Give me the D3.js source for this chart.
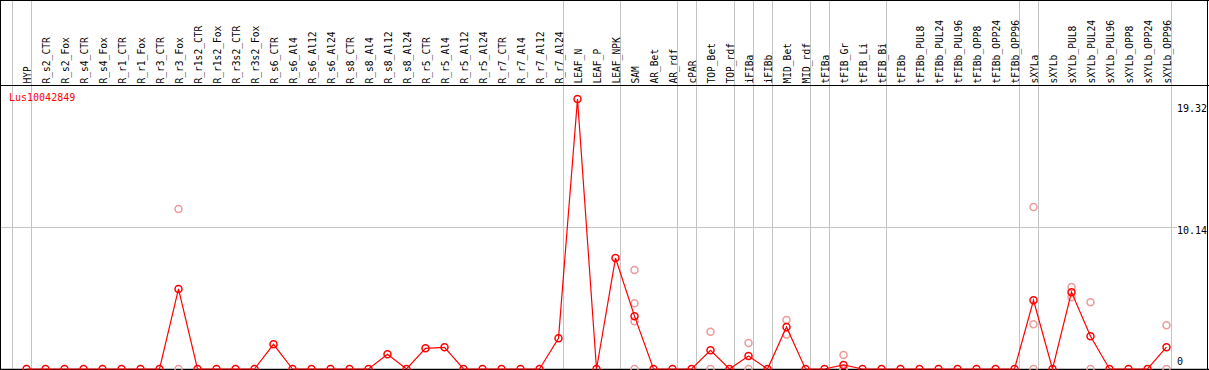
<!DOCTYPE html>
<html>
<head>
    <meta charset="utf-8">
    <script src="https://d3js.org/d3.v7.min.js"></script>
    <style>
        body { margin: 0; background: #fff; }
        text { font-family: "DejaVu Sans Mono", monospace; font-size: 10px; }
        text.cat { font-size: 9.6px; }
    </style>
</head>
<body>
    <div id="chart"></div>
    <script>
        // 样本名称
        var categories = ["HYP", "R_s2_CTR", "R_s2_Fox", "R_s4_CTR", "R_s4_Fox", "R_r1_CTR", "R_r1_Fox",
            "R_r3_CTR", "R_r3_Fox", "R_r1s2_CTR", "R_r1s2_Fox", "R_r3s2_CTR", "R_r3s2_Fox", "R_s6_CTR",
            "R_s6_Al4", "R_s6_Al12", "R_s6_Al24", "R_s8_CTR", "R_s8_Al4", "R_s8_Al12", "R_s8_Al24",
            "R_r5_CTR", "R_r5_Al4", "R_r5_Al12", "R_r5_Al24", "R_r7_CTR", "R_r7_Al4", "R_r7_Al12",
            "R_r7_Al24", "LEAF_N", "LEAF_P", "LEAF_NPK", "SAM", "AR_Bet", "AR_rdf", "cPAR", "TOP_Bet",
            "TOP_rdf", "iFIBa", "iFIBb", "MID_Bet", "MID_rdf", "tFIBa", "tFIB_Gr", "tFIB_Li", "tFIB_Bi",
            "tFIBb", "tFIBb_PUL8", "tFIBb_PUL24", "tFIBb_PUL96", "tFIBb_OPP8", "tFIBb_OPP24",
            "tFIBb_OPP96", "sXYLa", "sXYLb", "sXYLb_PUL8", "sXYLb_PUL24", "sXYLb_PUL96", "sXYLb_OPP8",
            "sXYLb_OPP24", "sXYLb_OPP96"];

        // 平均值
        var means = [0, 0, 0, 0, 0, 0, 0, 0, 5.73, 0, 0, 0, 0, 1.77,
            0, 0, 0, 0, 0, 1.05, 0,
            1.48, 1.55, 0, 0, 0, 0, 0,
            2.20, 19.32, 0, 7.94, 3.78, 0, 0, 0, 1.34,
            0, 0.93, 0, 3.01, 0, 0, 0.29, 0, 0,
            0, 0, 0, 0, 0, 0,
            0, 4.92, 0, 5.50, 2.34, 0, 0,
            0, 1.56];

        // 重复样本（只列出能看见的）
        var replicates = {
            "R_r3_Fox": [11.45, 0],
            "SAM": [7.08, 4.71, 3.42, 0],
            "TOP_Bet": [2.67, 0],
            "iFIBa": [1.86, 0],
            "MID_Bet": [3.51, 2.46],
            "tFIB_Gr": [1.0, 0, 0],
            "sXYLa": [11.59, 3.2, 0],
            "sXYLb_PUL8": [5.86, 5.14],
            "sXYLb_PUL24": [4.78, 0],
            "sXYLb_OPP96": [3.13, 0]
        };

        // 分组线：画在这些样本之后
        var groupEnds = [-1, 0, 28, 31, 34, 35, 37, 38, 39, 41, 42, 45, 52, 53, 60];
        var tickValues = [0, 10.14, 19.32];
        var geneName = "Lus10042849";

        var W = 1209, H = 370;
        var svg = d3.select("#chart").append("svg")
            .attr("width", W)
            .attr("height", H);

        var x = d3.scaleLinear().domain([0, categories.length - 1]).range([26.5, 1166.5]);
        var y = d3.scaleLinear().domain([0, 19.32]).range([369, 99]);

        // 竖线
        svg.selectAll("line.vgrid")
            .data(groupEnds)
            .enter()
            .append("line")
            .attr("class", "vgrid")
            .attr("x1", function(d) { return Math.round(x(d) + 4) + 0.5; })
            .attr("x2", function(d) { return Math.round(x(d) + 4) + 0.5; })
            .attr("y1", 0)
            .attr("y2", H)
            .attr("stroke", "#c4c4c4")
            .attr("stroke-width", 1);

        // 10.14 横线
        svg.append("line")
            .attr("x1", 0)
            .attr("x2", 1177)
            .attr("y1", Math.round(y(tickValues[1])) + 0.5)
            .attr("y2", Math.round(y(tickValues[1])) + 0.5)
            .attr("stroke", "#c4c4c4")
            .attr("stroke-width", 1);

        // 边框
        var border = [
            [0, 0.5, W, 0.5],
            [0.5, 0, 0.5, H],
            [W - 1.5, 0, W - 1.5, H],
            [0, 85.5, W, 85.5],
            [0, 369.5, W, 369.5]
        ];
        svg.selectAll("line.border")
            .data(border)
            .enter()
            .append("line")
            .attr("class", "border")
            .attr("x1", function(d) { return d[0]; })
            .attr("y1", function(d) { return d[1]; })
            .attr("x2", function(d) { return d[2]; })
            .attr("y2", function(d) { return d[3]; })
            .attr("stroke", "#000")
            .attr("stroke-width", function(d, i) { return i == 4 ? 1.5 : 1; });

        // 样本标签
        svg.selectAll("text.cat")
            .data(categories)
            .enter()
            .append("text")
            .attr("class", "cat")
            .attr("transform", function(d, i) {
                return "translate(" + (x(i) + 4) + ",83.5) rotate(-90)";
            })
            .attr("fill", "#000")
            .text(function(d) { return d; });

        // 基因名
        svg.append("text")
            .attr("x", 9)
            .attr("y", 101)
            .attr("fill", "#ff0000")
            .text(geneName);

        // 右边数值
        svg.selectAll("text.tick")
            .data(tickValues)
            .enter()
            .append("text")
            .attr("class", "tick")
            .attr("x", 1177)
            .attr("y", function(d) {
                return Math.max(112, Math.min(365, y(d) + 7));
            })
            .attr("fill", "#000")
            .text(function(d) { return d; });

        // 重复样本的点
        var repPoints = [];
        categories.forEach(function(c, i) {
            (replicates[c] || []).forEach(function(v) {
                repPoints.push({ i: i, v: v });
            });
        });
        svg.selectAll("circle.rep")
            .data(repPoints)
            .enter()
            .append("circle")
            .attr("class", "rep")
            .attr("cx", function(d) { return x(d.i); })
            .attr("cy", function(d) { return y(d.v); })
            .attr("r", 3.5)
            .attr("fill", "none")
            .attr("stroke", "#ec9a9a")
            .attr("stroke-width", 1.5);

        // 折线
        var line = d3.line()
            .x(function(d, i) { return x(i); })
            .y(function(d) { return y(d); });
        svg.append("path")
            .datum(means)
            .attr("d", line)
            .attr("fill", "none")
            .attr("stroke", "#ff0000")
            .attr("stroke-width", 1.2);

        // 平均值的点
        svg.selectAll("circle.mean")
            .data(means)
            .enter()
            .append("circle")
            .attr("class", "mean")
            .attr("cx", function(d, i) { return x(i); })
            .attr("cy", function(d) { return y(d); })
            .attr("r", 3.5)
            .attr("fill", "none")
            .attr("stroke", "#ff0000")
            .attr("stroke-width", 1.5);
    </script>
</body>
</html>
